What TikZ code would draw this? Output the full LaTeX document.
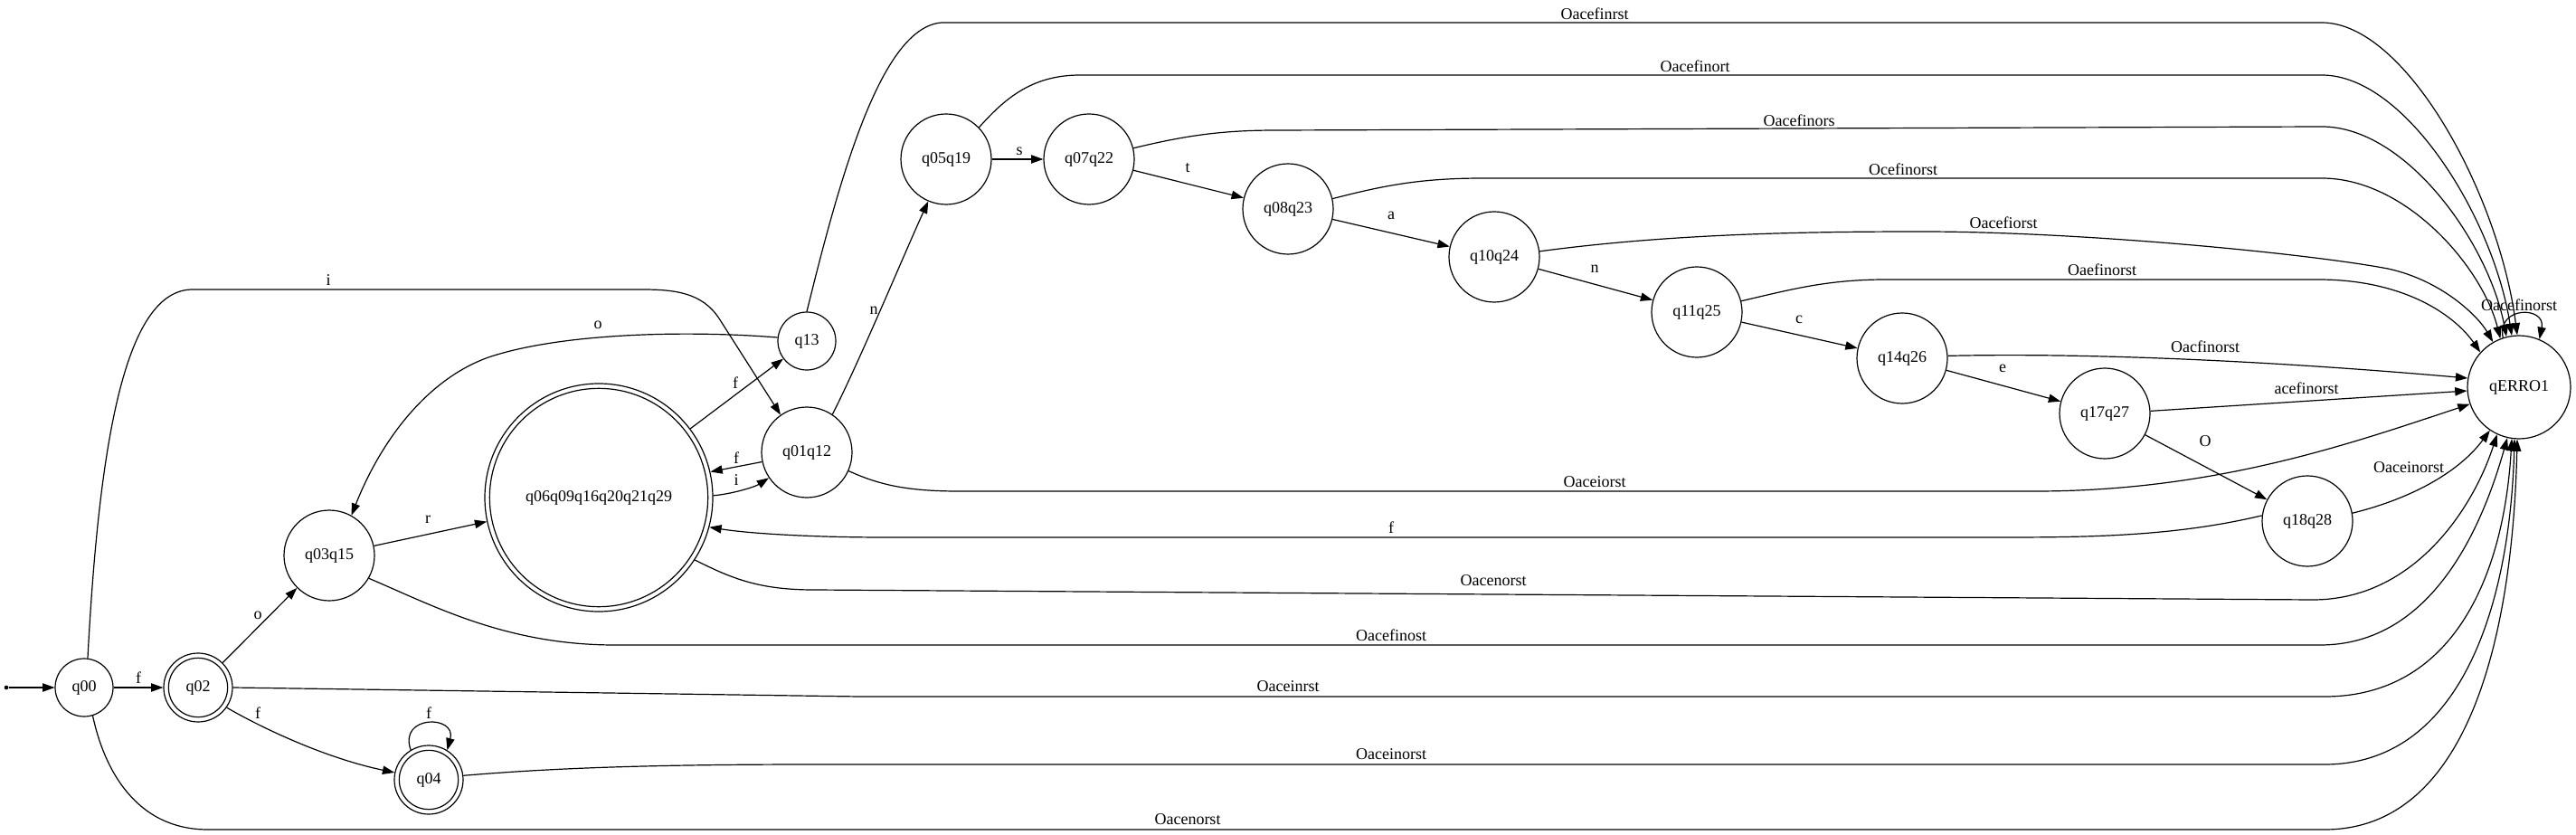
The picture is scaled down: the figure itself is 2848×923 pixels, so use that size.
\documentclass[tikz,border=0pt]{standalone}
\usepackage{fontspec}
\setmainfont{Liberation Serif}
\usetikzlibrary{arrows.meta}
\begin{document}
\begin{tikzpicture}[x=0.75pt,y=-0.75pt,
  st/.style={circle, draw, line width=0.9pt, inner sep=0pt, minimum size=75pt, font=\fontsize{13.5}{16}\selectfont},
  acc/.style={st, path picture={\draw[line width=0.9pt] (path picture bounding box.center) circle[radius=#1];}},
  dotnode/.style={circle, fill=black, inner sep=0pt, minimum size=3.5pt},
  lbl/.style={inner sep=0pt, font=\fontsize{13.5}{16}\selectfont},
  arr/.style={-{Triangle[length=10pt,width=7pt]}, line width=0.9pt}]
\useasboundingbox (0,0) rectangle (2848,923);

% states
\node[dotnode] (s) at (7,760) {};
\node[st, minimum size=48pt] (q00) at (93,760) {q00};
\node[acc=24.5pt, minimum size=57pt] (q02) at (219,760) {q02};
\node[st] (q03q15) at (364,614) {q03q15};
\node[acc=24.5pt, minimum size=57pt] (q04) at (474,862) {q04};
\node[acc=90.5pt, minimum size=189pt] (q06) at (662,550) {q06q09q16q20q21q29};
\node[st, minimum size=48pt] (q13) at (892,377) {q13};
\node[st] (q01q12) at (892,500) {q01q12};
\node[st] (q05q19) at (1046,176) {q05q19};
\node[st] (q07q22) at (1204,176) {q07q22};
\node[st] (q08q23) at (1424,231) {q08q23};
\node[st] (q10q24) at (1652,284) {q10q24};
\node[st] (q11q25) at (1876,345) {q11q25};
\node[st] (q14q26) at (2103,396) {q14q26};
\node[st] (q17q27) at (2327,457) {q17q27};
\node[st] (q18q28) at (2551,576) {q18q28};
\node[st, minimum size=85.5pt] (qE) at (2785,428) {qERRO1};

% edges
\draw[arr] (s) -- (q00);
\draw[arr] (q00) -- (q02) node[lbl] (l01) at (153,749) {f};
\draw[arr] (q00.83) .. controls (110,480) and (140,320) .. (213,320) -- (709,320)
  .. controls (745,320) and (776,323) .. (795,352) -- (q01q12.125) node[lbl] (l02) at (363,310) {i};
\draw[arr] (q00.287) .. controls (115,850) and (150,917) .. (230,917) -- (2570,917)
  .. controls (2730,917) and (2778,700) .. (qE.268) node[lbl] (l03) at (1313,906) {Oacenorst};

\draw[arr] (q02) -- (q03q15) node[lbl] (l04) at (285,680) {o};
\draw[arr] (q02.325) .. controls (290,805) and (360,838) .. (q04.168) node[lbl] (l05) at (285,788) {f};
\draw[arr] (q02.east) -- (950,770) -- (2570,770)
  .. controls (2710,770) and (2768,640) .. (qE.262) node[lbl] (l06) at (1424,759) {Oaceinrst};

\draw[arr] (q03q15) -- (q06) node[lbl] (l07) at (473,574) {r};
\draw[arr] (q03q15.330) .. controls (480,670) and (560,713) .. (680,713) -- (2565,713)
  .. controls (2690,713) and (2745,580) .. (qE.257) node[lbl] (l08) at (1538,702) {Oacefinost};

\draw[arr] (q04.121) .. controls (440,790) and (505,790) .. (q04.58) node[lbl] (l09) at (474,788) {f};
\draw[arr] (q04.7) .. controls (600,850) and (700,845) .. (900,845) -- (2570,845)
  .. controls (2720,845) and (2775,670) .. (qE.265) node[lbl] (l10) at (1538,834) {Oaceinorst};

\draw[arr] (q06) -- (q13) node[lbl] (l11) at (813,423) {f};
\draw[arr] (q06.1) .. controls (810,546) and (835,538) .. (q01q12.214) node[lbl] (l12) at (814,531) {i};
\draw[arr] (q01q12.192) -- (q06.13) node[lbl] (l13) at (814,506) {f};
\draw[arr] (q06.327) .. controls (810,640) and (840,652) .. (900,652) -- (2557,663)
  .. controls (2670,663) and (2735,560) .. (qE.245) node[lbl] (l14) at (1651,642) {Oacenorst};

\draw[arr] (q01q12.56) .. controls (950,400) and (1000,280) .. (q05q19.247) node[lbl] (l15) at (966,343) {n};
\draw[arr] (q01q12.336) .. controls (970,535) and (1000,543) .. (1060,543) -- (2250,543)
  .. controls (2450,543) and (2600,490) .. (qE.199) node[lbl] (l16) at (1763,533) {Oaceiorst};

\draw[arr] (q13.173) .. controls (760,365) and (620,368) .. (540,395)
  .. controls (470,420) and (420,490) .. (q03q15.61) node[lbl] (l17) at (661,359) {o};
\draw[arr] (q13.north) .. controls (930,190) and (975,30) .. (1041,25) -- (2567,25)
  .. controls (2660,25) and (2763,215) .. (qE.92) node[lbl] (l18) at (1763,15) {Oacefinrst};

\draw[arr] (q05q19) -- (q07q22) node[lbl] (l19) at (1127,167) {s};
\draw[arr] (q05q19.44) .. controls (1110,110) and (1140,83) .. (1194,83) -- (2567,83)
  .. controls (2660,83) and (2757,242) .. (qE.98) node[lbl] (l20) at (1874,73) {Oacefinort};

\draw[arr] (q07q22) -- (q08q23) node[lbl] (l21) at (1313,186) {t};
\draw[arr] (q07q22.14) .. controls (1310,150) and (1350,144) .. (1411,144) -- (2567,140)
  .. controls (2660,140) and (2751,268) .. (qE.104) node[lbl] (l22) at (1989,133) {Oacefinors};

\draw[arr] (q08q23) -- (q10q24) node[lbl] (l23) at (1538,238) {a};
\draw[arr] (q08q23.13) .. controls (1530,205) and (1570,197) .. (1640,197) -- (2567,197)
  .. controls (2660,197) and (2744,295) .. (qE.111) node[lbl] (l24) at (2104,187) {Ocefinorst};

\draw[arr] (q10q24) -- (q11q25) node[lbl] (l25) at (1763,297) {n};
\draw[arr] (q10q24.7) .. controls (1850,258) and (2000,256) .. (2125,256)
  .. controls (2300,256) and (2550,280) .. (2640,297)
  .. controls (2700,310) and (2740,350) .. (qE.120) node[lbl] (l26) at (2215,246) {Oacefiorst};

\draw[arr] (q11q25) -- (q14q26) node[lbl] (l27) at (1989,353) {c};
\draw[arr] (q11q25.14) .. controls (1980,320) and (2020,309) .. (2085,309) -- (2563,309)
  .. controls (2660,309) and (2715,350) .. (qE.138) node[lbl] (l28) at (2324,298) {Oaefinorst};

\draw[arr] (q14q26) -- (q17q27) node[lbl] (l29) at (2214,407) {e};
\draw[arr] (q14q26.3) .. controls (2300,390) and (2500,398) .. (qE.170) node[lbl] (l30) at (2438,383) {Oacfinorst};

\draw[arr] (q17q27) -- (q18q28) node[lbl] (l31) at (2438,488) {O};
\draw[arr] (q17q27.3) -- (qE.184) node[lbl] (l32) at (2550,429) {acefinorst};

\draw[arr] (q18q28.173) .. controls (2400,594) and (2300,594) .. (2200,594) -- (980,594)
  .. controls (900,594) and (830,590) .. (q06.345) node[lbl] (l33) at (1538,583) {f};
\draw[arr] (q18q28.10) .. controls (2670,550) and (2720,520) .. (qE.236) node[lbl] (l34) at (2663,517) {Oaceinorst};

\draw[arr] (qE.108) .. controls (2760,338) and (2815,338) .. (qE.67) node[lbl] (l35) at (2785,337) {Oacefinorst};
\end{tikzpicture}
\end{document}
